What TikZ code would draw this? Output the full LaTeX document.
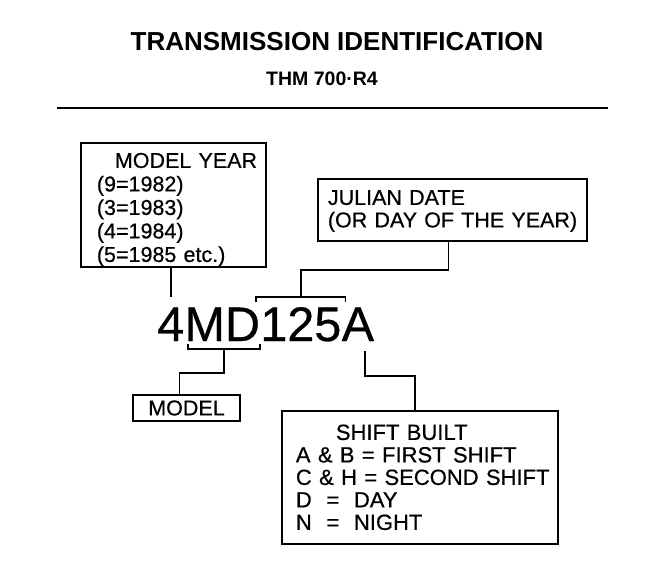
\documentclass[tikz,border=0pt]{standalone}
\usepackage{fontspec}
\setmainfont{Liberation Sans}
\newfontfamily\heavy[FakeBold=0.6]{Liberation Sans}
\usetikzlibrary{calc}
\begin{document}
\begin{tikzpicture}[x=1pt,y=-1pt,
  every node/.style={inner sep=0pt},
  box/.style={draw, line width=1.8pt, align=left, anchor=north west},
  lab/.style={font=\heavy\fontsize{21.5pt}{23.5pt}\selectfont},
  big/.style={font=\heavy\fontsize{48.5pt}{58pt}\selectfont, anchor=base west},
  conn/.style={line width=1.8pt},
]
\useasboundingbox (0,0) rectangle (656,576);
% titles
\node[font=\bfseries\fontsize{26pt}{30pt}\selectfont] (title) at (337,42) {TRANSMISSION IDENTIFICATION};
\node[font=\bfseries\fontsize{19.5pt}{22pt}\selectfont] (sub) at (322,79) {THM 700·R4};
\coordinate (ruleL) at (57,108);
\coordinate (ruleR) at (608,108);
\draw[line width=1.6pt] (ruleL) -- (ruleR);
% boxes
\node[box, lab, inner xsep=16pt, text width=153pt] (my) at (80,142)
  {\rule{0pt}{25pt}\hspace*{18pt}MODEL~YEAR\\(9=1982)\\(3=1983)\\(4=1984)\\(5=1985~etc.)\rule[-5pt]{0pt}{5pt}};
\node[box, font=\heavy\fontsize{21.5pt}{22.5pt}\selectfont, inner xsep=10pt, text width=249pt] (jd) at (317,178)
  {\rule{0pt}{26pt}\mbox{JULIAN DATE}\\\mbox{(OR DAY OF THE YEAR)}\rule[-13.5pt]{0pt}{13.5pt}};
\node[draw, line width=1.8pt, lab, minimum width=107pt, minimum height=26pt] (model) at (186.5,408) {MODEL};
\node[box, font=\heavy\fontsize{22pt}{22.5pt}\selectfont, inner xsep=14pt, text width=248pt] (sb) at (281,410)
  {\rule{0pt}{29pt}\hspace*{40pt}\mbox{SHIFT BUILT}\\\mbox{A \& B = FIRST SHIFT}\\\mbox{C \& H = SECOND SHIFT}\\\mbox{D\ \ =\ \ DAY}\\\mbox{N\ \ =\ \ NIGHT}\rule[-14pt]{0pt}{14pt}};
% code
\node[big] (d4) at (157,341) {4};
\node[big] (dMD) at (d4.base east) {MD};
\node[big] (d125) at (dMD.base east) {125};
\node[big] (dA) at (d125.base east) {A};
% brackets
\coordinate (ubL) at ($(d125.north west)+(-4,-10)$);
\coordinate (ubR) at ($(d125.north east)+(4,-10)$);
\coordinate (ubc) at ($(ubL)!0.5!(ubR)$);
\draw[conn] ($(ubL)+(0,5)$) -- (ubL) -- (ubR) -- ++(0,5);
\coordinate (lbL) at ($(dMD.south west)+(4,8)$);
\coordinate (lbR) at ($(dMD.south east)+(0,8)$);
\coordinate (lbc) at ($(lbL)!0.5!(lbR)$);
\draw[conn] ($(lbL)+(0,-5)$) -- (lbL) -- (lbR) -- ++(0,-5);
% connectors
\draw[conn] (my.south -| d4.north) -- ($(d4.north)+(0,-10)$);
\draw[conn] ($(jd.south)+(-4,0)$) -- ++(0,28) -| (ubc);
\draw[conn] (lbc) -- ++(0,24) -| ($(model.north)+(-7,0)$);
\draw[conn] ($(dA.south)+(7,10)$) -- ++(0,25) -| ($(sb.north)+(-5,0)$);
\end{tikzpicture}
\end{document}
